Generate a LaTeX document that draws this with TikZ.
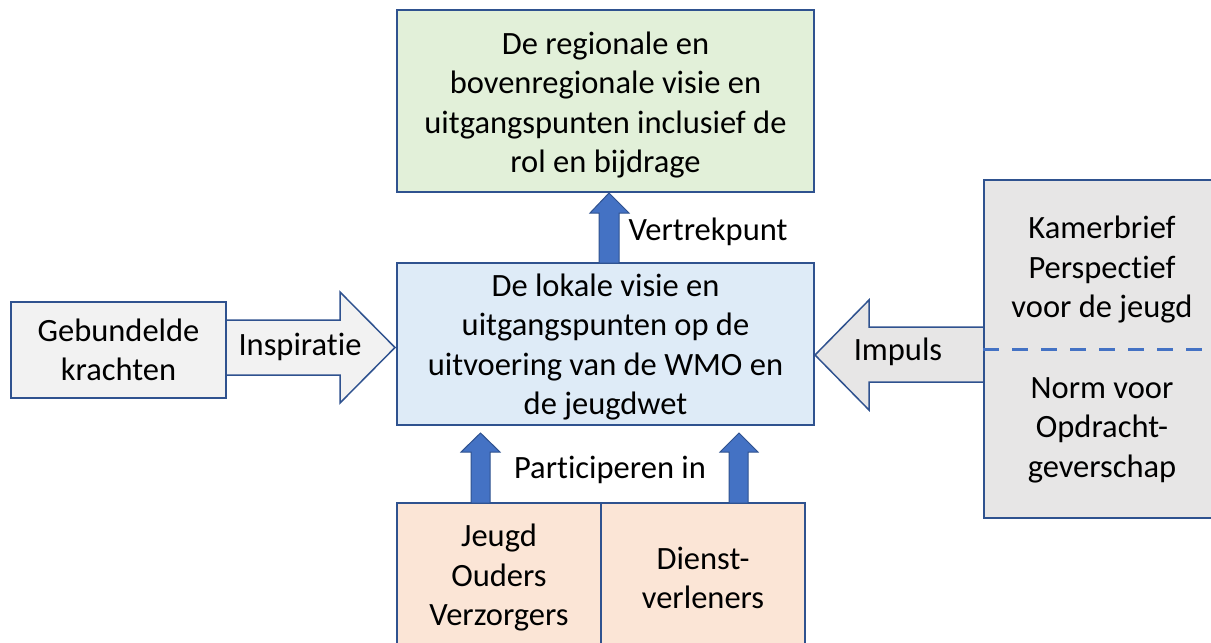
\documentclass[tikz,border=0pt]{standalone}
\usepackage{fontspec}
\setmainfont{Carlito}[Ligatures=NoCommon]
\usetikzlibrary{calc}
\definecolor{bordc}{HTML}{2F528F}
\definecolor{accblue}{HTML}{4472C4}
\definecolor{greenf}{HTML}{E2F0D9}
\definecolor{bluef}{HTML}{DEEBF7}
\definecolor{greyf}{HTML}{F2F2F2}
\definecolor{greyr}{HTML}{E7E6E6}
\definecolor{peachf}{HTML}{FBE5D6}
\tikzset{
  boxstyle/.style={draw=bordc, line width=1.5pt, align=center, inner sep=0pt,
    font=\fontsize{32.5}{39.5}\selectfont, text=black},
  lbl/.style={font=\fontsize{32.5}{39.5}\selectfont, text=black, inner sep=0pt, align=center},
  bluearrow/.style={fill=accblue, draw=bordc, line width=1pt, line join=miter},
  blockarrow/.style={draw=bordc, line width=1.5pt, line join=miter},
}
\begin{document}
\begin{tikzpicture}[x=1pt,y=-1pt]
\useasboundingbox (0,0) rectangle (1211,643);
% arrows behind boxes
\draw[blockarrow, fill=greyf] (224,320) -- (340,320) -- (340,292) -- (395,347.5) -- (340,403) -- (340,375) -- (224,375) -- cycle;
\draw[blockarrow, fill=greyr] (986,327) -- (869,327) -- (869,300) -- (815,355) -- (869,410) -- (869,382) -- (986,382) -- cycle;
% boxes
\node[boxstyle, fill=greenf, minimum width=417pt, minimum height=182pt] (top) at (605.5,101) {};
\node[lbl] (toptext) at (605.5,105)
  {De regionale en\\bovenregionale visie en\\uitgangspunten inclusief de\\rol en bijdrage};
\node[boxstyle, fill=bluef, minimum width=417pt, minimum height=162pt] (mid) at (605.5,344) {};
\node[lbl] (midtext) at (605.5,347)
  {De lokale visie en\\uitgangspunten op de\\uitvoering van de WMO en\\de jeugdwet};
\node[boxstyle, fill=greyf, minimum width=215pt, minimum height=96pt] (left) at (118.5,350)
  {Gebundelde\\krachten};
\node[boxstyle, fill=greyr, minimum width=232pt, minimum height=338pt] (right) at (1100,349) {};
\node[lbl] (kamer) at (1102,270) {Kamerbrief\\Perspectief\\voor de jeugd};
\node[lbl] (norm) at (1102,430) {Norm voor\\Opdracht-\\geverschap};
\draw[accblue, line width=3pt, dash pattern=on 16pt off 13pt] (right.west |- 0,349) coordinate (dl) -- (right.east |- 0,349) coordinate (dr);
\node[boxstyle, fill=peachf, minimum width=204pt, minimum height=150pt] (bl) at (499,578)
  {Jeugd\\Ouders\\Verzorgers};
\node[boxstyle, fill=peachf, minimum width=204pt, minimum height=150pt] (br) at (703,578)
  {Dienst-\\verleners};
% labels
\node[lbl] (insp) at (300,347) {Inspiratie};
\node[lbl] (imp) at (898,352) {Impuls};
\node[lbl] (vert) at (708,232) {Vertrekpunt};
\node[lbl] (part) at (610,470) {Participeren in};
% blue arrows
\draw[bluearrow] (599,263) -- (599,213) -- (590,213) -- (609,193) -- (629,213) -- (619,213) -- (619,263) -- cycle;
\draw[bluearrow] (471,503) -- (471,452) -- (461,452) -- (480.5,433) -- (500,452) -- (490,452) -- (490,503) -- cycle;
\draw[bluearrow] (729,503) -- (729,452) -- (720,452) -- (739,433) -- (758,452) -- (748,452) -- (748,503) -- cycle;
\end{tikzpicture}
\end{document}
